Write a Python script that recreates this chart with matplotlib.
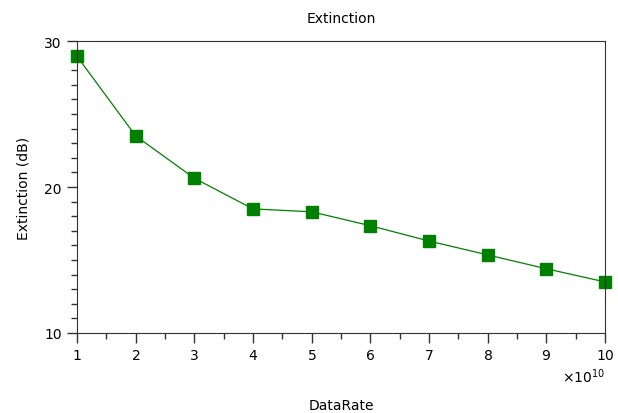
import matplotlib
matplotlib.use("Agg")
import matplotlib.pyplot as plt
from matplotlib.ticker import MultipleLocator, ScalarFormatter

data_rate = [1e10, 2e10, 3e10, 4e10, 5e10, 6e10, 7e10, 8e10, 9e10, 10e10]
extinction = [28.95, 23.5, 20.6, 18.5, 18.3, 17.35, 16.3, 15.35, 14.4, 13.5]


class FixedOrder(ScalarFormatter):
    # keep the offset at 1e10 like the original
    def _set_order_of_magnitude(self):
        self.orderOfMagnitude = 10


plt.rcParams['font.family'] = 'DejaVu Sans'
plt.rcParams['font.size'] = 10

fig = plt.figure(figsize=(6.18, 4.14), dpi=100)
ax = fig.add_axes([77 / 618, 80 / 414, 528 / 618, 292 / 414])

ax.plot(data_rate, extinction, color='#008000', lw=0.9, clip_on=False,
        marker='s', markersize=8, markerfacecolor='#008000', markeredgecolor='#008000')

ax.set_xlim(1e10, 1e11)
ax.set_ylim(10, 30)
ax.xaxis.set_major_locator(MultipleLocator(1e10))
ax.xaxis.set_minor_locator(MultipleLocator(0.5e10))
ax.yaxis.set_major_locator(MultipleLocator(10))
ax.yaxis.set_minor_locator(MultipleLocator(1))

fmt = FixedOrder(useMathText=True)
ax.xaxis.set_major_formatter(fmt)
ax.xaxis.get_offset_text().set_fontsize(10)

ax.tick_params(which='major', length=7, width=1, color='#333333', labelsize=10, pad=4)
ax.tick_params(which='minor', length=4, width=1, color='#333333')
for s in ax.spines.values():
    s.set_color('#333333')

ax.set_title('Extinction', fontsize=10, pad=14)
ax.set_xlabel('DataRate', fontsize=10, labelpad=26)
ax.set_ylabel('Extinction (dB)', fontsize=10, labelpad=10)

fig.savefig('out.png', dpi=100)
